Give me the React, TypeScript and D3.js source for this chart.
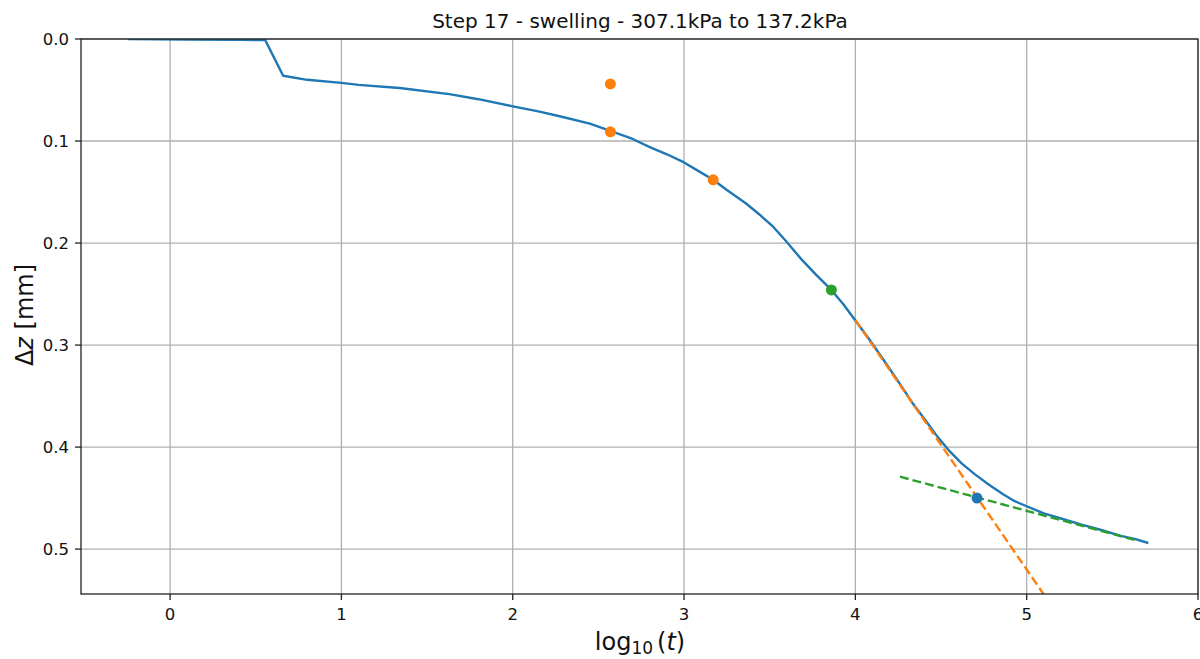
import React from "react";
import * as d3 from "d3";

const curveLogT = [-0.245, 0.1, 0.4, 0.555, 0.66, 0.8, 1.0, 1.1, 1.34, 1.63, 1.8, 2.0, 2.15, 2.28, 2.45, 2.57, 2.7, 2.8, 2.9, 3.0, 3.08, 3.17, 3.25, 3.36, 3.44, 3.52, 3.6, 3.68, 3.77, 3.86, 3.93, 4.0, 4.08, 4.15, 4.26, 4.33, 4.41, 4.48, 4.55, 4.62, 4.70, 4.78, 4.86, 4.93, 5.0, 5.1, 5.2, 5.32, 5.43, 5.55, 5.63, 5.71];
const curveDz = [0.0, 0.0005, 0.0008, 0.001, 0.036, 0.040, 0.043, 0.045, 0.048, 0.054, 0.059, 0.066, 0.071, 0.076, 0.083, 0.090, 0.098, 0.106, 0.113, 0.121, 0.129, 0.138, 0.148, 0.161, 0.172, 0.184, 0.199, 0.215, 0.231, 0.246, 0.260, 0.276, 0.294, 0.311, 0.338, 0.356, 0.374, 0.390, 0.404, 0.416, 0.427, 0.437, 0.446, 0.453, 0.458, 0.465, 0.470, 0.476, 0.481, 0.487, 0.490, 0.494];

const orangeDotsX = [2.57, 2.57, 3.17];
const orangeDotsY = [0.044, 0.091, 0.138];
const greenDot = [3.86, 0.246];
const blueDot = [4.71, 0.450];
const orangeLineX = [4.0, 5.10];
const orangeLineY = [0.2755, 0.5445];
const greenLineX = [4.26, 5.63];
const greenLineY = [0.429, 0.491];

const xTicks = [0, 1, 2, 3, 4, 5, 6];
const yTicks = [0.0, 0.1, 0.2, 0.3, 0.4, 0.5];
const title = "Step 17 - swelling - 307.1kPa to 137.2kPa";

const BLUE = "#1f77b4";
const ORANGE = "#ff7f0e";
const GREEN = "#2ca02c";

export default function App() {
  const left = 81, right = 1198, top = 39, bottom = 594;
  const x = d3.scaleLinear().domain([-0.52, 6.0]).range([left, right]);
  const y = d3.scaleLinear().domain([0, 0.544]).range([top, bottom]);
  const line = d3.line<[number, number]>().x(d => x(d[0])).y(d => y(d[1]));
  const curve: [number, number][] = curveLogT.map((t, i) => [t, curveDz[i]]);
  const font = "DejaVu Sans, sans-serif";
  return (
    <svg width={1200} height={659} style={{ position: "absolute", left: 0, top: 0, background: "#fff" }} fontFamily={font}>
      <defs>
        <clipPath id="plot">
          <rect x={left} y={top} width={right - left} height={bottom - top} />
        </clipPath>
      </defs>
      {xTicks.map(t => (
        <line key={"gx" + t} x1={x(t)} x2={x(t)} y1={top} y2={bottom} stroke="#b0b0b0" strokeWidth={1.3} />
      ))}
      {yTicks.map(t => (
        <line key={"gy" + t} x1={left} x2={right} y1={y(t)} y2={y(t)} stroke="#b0b0b0" strokeWidth={1.3} />
      ))}
      <g clipPath="url(#plot)">
        <path d={line(curve) || ""} fill="none" stroke={BLUE} strokeWidth={2.4} strokeLinejoin="round" />
        <path d={line([[orangeLineX[0], orangeLineY[0]], [orangeLineX[1], orangeLineY[1]]]) || ""} fill="none" stroke={ORANGE} strokeWidth={2.4} strokeDasharray="9,4" />
        <path d={line([[greenLineX[0], greenLineY[0]], [greenLineX[1], greenLineY[1]]]) || ""} fill="none" stroke={GREEN} strokeWidth={2.4} strokeDasharray="9,4" />
        {orangeDotsX.map((t, i) => (
          <circle key={"od" + i} cx={x(t)} cy={y(orangeDotsY[i])} r={5.5} fill={ORANGE} />
        ))}
        <circle cx={x(greenDot[0])} cy={y(greenDot[1])} r={5.5} fill={GREEN} />
        <circle cx={x(blueDot[0])} cy={y(blueDot[1])} r={5.5} fill={BLUE} />
      </g>
      <rect x={left} y={top} width={right - left} height={bottom - top} fill="none" stroke="#222" strokeWidth={1.3} />
      {xTicks.map(t => (
        <g key={"xt" + t}>
          <line x1={x(t)} x2={x(t)} y1={bottom} y2={bottom + 6} stroke="#222" strokeWidth={1.3} />
          <text x={x(t)} y={bottom + 26} textAnchor="middle" fontSize={16.5} fill="#111">{t}</text>
        </g>
      ))}
      {yTicks.map(t => (
        <g key={"yt" + t}>
          <line x1={left - 6} x2={left} y1={y(t)} y2={y(t)} stroke="#222" strokeWidth={1.3} />
          <text x={left - 12} y={y(t) + 6} textAnchor="end" fontSize={16.5} fill="#111">{t.toFixed(1)}</text>
        </g>
      ))}
      <text x={640} y={28} textAnchor="middle" fontSize={20} fill="#111">{title}</text>
      <text x={640} y={650} textAnchor="middle" fontSize={24} fill="#111">
        log<tspan fontSize={17} dy={4}>10</tspan><tspan dy={-4} dx={4}>(</tspan><tspan fontStyle="italic">t</tspan>)
      </text>
      <text transform="translate(33,315) rotate(-90)" textAnchor="middle" fontSize={24} fill="#111">
        Δ<tspan fontStyle="italic">z</tspan> [mm]
      </text>
    </svg>
  );
}
